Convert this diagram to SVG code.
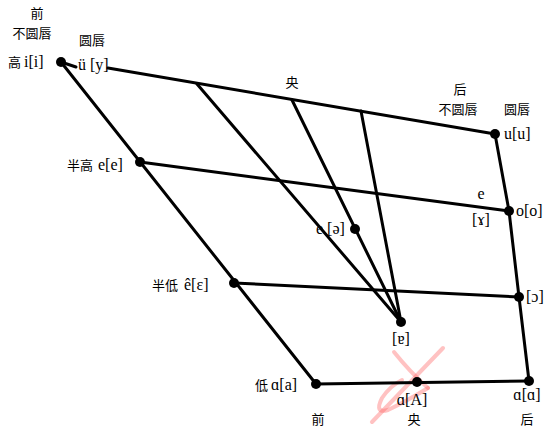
<svg xmlns="http://www.w3.org/2000/svg" width="546" height="430" viewBox="0 0 546 430">
<style>
.ln{stroke:#000;stroke-width:3;fill:none;stroke-linecap:round;stroke-linejoin:round}
.dot{fill:#000}
.t{font-family:"Liberation Serif","DejaVu Serif",serif;font-size:16px;fill:#000}
.c{font-family:"Noto Sans CJK SC","Liberation Serif",serif;font-size:13px;fill:#000}
.wm{stroke:#f66;stroke-width:4;fill:none;opacity:0.4;stroke-linecap:round}
</style>
<rect width="546" height="430" fill="#fff"/>
<g id="watermark">
<path class="wm" d="M443 348 L372 422"/>
<path class="wm" d="M394 352 Q410 372 428 388"/>
<path class="wm" d="M428 388 Q405 402 388 410 Q374 414 382 398 Q390 386 402 380"/>
</g>
<g id="connectors">
<path class="ln" d="M61 62 L76 67"/>
<path class="ln" d="M108 68 L495 134"/>
<path class="ln" d="M61 62 L316 384"/>
<path class="ln" d="M495 134 L509 211 L519 297 L529 381"/>
<path class="ln" d="M140 162 L509 211"/>
<path class="ln" d="M234 283 L519 297"/>
<path class="ln" d="M316 384 L529 381"/>
<path class="ln" d="M197 84 L401 322"/>
<path class="ln" d="M292 100 L401 322"/>
<path class="ln" d="M361 111 L401 322"/>
</g>
<g id="headers">
<text class="c" x="37" y="18" text-anchor="middle">前</text>
<text class="c" x="32" y="38" text-anchor="middle">不圆唇</text>
<text class="c" x="92" y="45" text-anchor="middle">圆唇</text>
<text class="c" x="292" y="87" text-anchor="middle">央</text>
<text class="c" x="460" y="94" text-anchor="middle">后</text>
<text class="c" x="458" y="114" text-anchor="middle">不圆唇</text>
<text class="c" x="517" y="114" text-anchor="middle">圆唇</text>
<text class="c" x="318" y="424" text-anchor="middle">前</text>
<text class="c" x="414" y="424" text-anchor="middle">央</text>
<text class="c" x="527" y="424" text-anchor="middle">后</text>
</g>
<g id="n-i"><circle class="dot" cx="61" cy="62" r="5"/><text class="c" x="8" y="67">高</text><text class="t" x="24" y="67">i[i]</text></g>
<g id="n-y"><text class="t" x="78" y="70">ü [y]</text></g>
<g id="n-u"><circle class="dot" cx="495" cy="134" r="5"/><text class="t" x="504" y="139">u[u]</text></g>
<g id="n-e"><circle class="dot" cx="140" cy="162" r="5"/><text class="c" x="67" y="170">半高</text><text class="t" x="98" y="170">e[e]</text></g>
<g id="n-gamma"><text class="t" x="481" y="199" text-anchor="middle">e</text><text class="t" x="481" y="225" text-anchor="middle">[ɤ]</text></g>
<g id="n-o"><circle class="dot" cx="509" cy="211" r="5"/><text class="t" x="516" y="216">o[o]</text></g>
<g id="n-schwa"><circle class="dot" cx="355" cy="229" r="5"/><text class="t" x="316" y="234">e [ə]</text></g>
<g id="n-epsilon"><circle class="dot" cx="234" cy="283" r="5"/><text class="c" x="152" y="290">半低</text><text class="t" x="184" y="290">ê[ɛ]</text></g>
<g id="n-open-o"><circle class="dot" cx="519" cy="297" r="5"/><text class="t" x="526" y="302">[ɔ]</text></g>
<g id="n-turned-a"><circle class="dot" cx="401" cy="322" r="5"/><text class="t" x="401" y="344" text-anchor="middle">[ɐ]</text></g>
<g id="n-a"><circle class="dot" cx="316" cy="384" r="5"/><text class="c" x="255" y="390">低</text><text class="t" x="271" y="390">ɑ[a]</text></g>
<g id="n-A"><circle class="dot" cx="417" cy="382" r="5"/><text class="t" x="412" y="405" text-anchor="middle">ɑ[A]</text></g>
<g id="n-alpha"><circle class="dot" cx="529" cy="381" r="5"/><text class="t" x="527" y="400" text-anchor="middle">ɑ[ɑ]</text></g>
</svg>
